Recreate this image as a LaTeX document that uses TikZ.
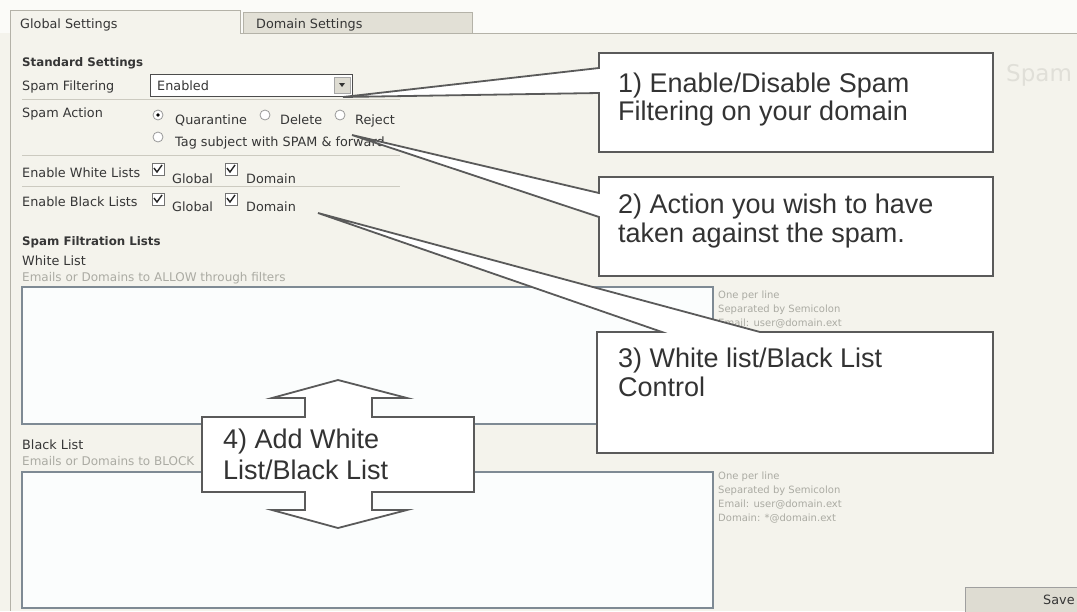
\documentclass[tikz,border=0pt]{standalone}
\usepackage{fontspec}
\setmainfont{DejaVu Sans}
\newfontfamily\calloutfont{Liberation Sans}
\definecolor{bgpanel}{HTML}{F4F3EC}
\definecolor{bgtop}{HTML}{FBFBF8}
\definecolor{tabline}{HTML}{B4B2A8}
\definecolor{tabgray}{HTML}{E2E0D6}
\definecolor{uitext}{HTML}{363636}
\definecolor{hintgray}{HTML}{ABABA3}
\definecolor{sepline}{HTML}{CCCAC0}
\definecolor{areaborder}{HTML}{7E8A94}
\definecolor{areafill}{HTML}{FBFDFD}
\definecolor{cborder}{HTML}{5A5A5A}
\definecolor{ctextcol}{HTML}{333333}
\definecolor{ghost}{HTML}{E0DFD8}
\definecolor{btnfill}{HTML}{DEDCD2}
\begin{document}
\begin{tikzpicture}[x=1pt,y=-1pt,
  ui/.style={font=\fontsize{12.8}{14}\selectfont, text=uitext, inner sep=0pt, anchor=base west},
  uib/.style={font=\fontsize{11.8}{14}\selectfont\bfseries, text=uitext, inner sep=0pt, anchor=base west},
  hint/.style={font=\fontsize{12}{14}\selectfont, text=hintgray, inner sep=0pt, anchor=base west},
  note/.style={font=\fontsize{10}{12}\selectfont, text=hintgray, inner sep=0pt, anchor=base west},
  sep/.style={draw=sepline, line width=1pt},
  area/.style={draw=areaborder, fill=areafill, line width=1.3pt},
  radiobtn/.style={draw=gray!80, fill=white, line width=0.8pt},
  chkbox/.style={draw=gray!90!black, fill=white, line width=0.9pt},
  tick/.style={draw=black!85, line width=1.4pt},
  callout/.style={draw=cborder, fill=white, line width=1.8pt, line join=miter},
  ctext/.style={font=\calloutfont\fontsize{27}{29}\selectfont, text=ctextcol, inner sep=0pt, anchor=base west}]
\useasboundingbox (0,0) rectangle (1077,611);
% backgrounds
\fill[bgpanel] (0,0) rectangle (1077,611);
\fill[bgtop] (0,0) rectangle (1077,33);
\fill[bgpanel] (10,10) rectangle (240,33);
% tabs
\draw[tabline, line width=1pt] (10,611) -- (10,10) -- (240,10) -- (240,33) -- (1077,33);
\draw[tabline, fill=tabgray, line width=1pt] (243,12) rectangle (472,33);
\node[ui] (tabglobal) at (20,28) {Global Settings};
\node[ui] (tabdomain) at (256,28) {Domain Settings};
% standard settings
\node[uib] (stdset) at (22,66) {Standard Settings};
\node[ui] (spamfilt) at (22,90) {Spam Filtering};
\draw[draw=black!70, fill=white, line width=1pt] (150,74) rectangle (352,96);
\node[ui] (enabled) at (157,90) {Enabled};
\draw[draw=gray!70, fill=btnfill, line width=0.6pt] (334,77) rectangle (350,93);
\fill[black!80] (339,83) -- (345,83) -- (342,87) -- cycle;
\draw[sep] (22,99) -- (400,99);
\node[ui] (spamact) at (22,117) {Spam Action};
\draw[radiobtn] (158,115) circle (5);
\fill[black] (158,115) circle (1.8);
\node[ui] (quar) at (175,124) {Quarantine};
\draw[radiobtn] (265,115) circle (5);
\node[ui] (del) at (280,124) {Delete};
\draw[radiobtn] (340,115) circle (5);
\node[ui] (rej) at (355,124) {Reject};
\draw[radiobtn] (158,137) circle (5);
\node[ui] (tagsub) at (175,146) {Tag subject with SPAM \& forward};
\draw[sep] (22,155) -- (400,155);
% white / black list toggles
\node[ui] (enwhite) at (22,177) {Enable White Lists};
\draw[chkbox] (152,163) rectangle (164,175);
\draw[tick] (154,168) -- (157,172) -- (162,165);
\node[ui] (wglob) at (172,183) {Global};
\draw[chkbox] (225,163) rectangle (237,175);
\draw[tick] (227,168) -- (230,172) -- (235,165);
\node[ui] (wdom) at (246,183) {Domain};
\draw[sep] (22,186) -- (400,186);
\node[ui] (enblack) at (22,206) {Enable Black Lists};
\draw[chkbox] (152,193) rectangle (164,205);
\draw[tick] (154,198) -- (157,202) -- (162,195);
\node[ui] (bglob) at (172,211) {Global};
\draw[chkbox] (225,193) rectangle (237,205);
\draw[tick] (227,198) -- (230,202) -- (235,195);
\node[ui] (bdom) at (246,211) {Domain};
% lists
\node[uib] (sfl) at (22,245) {Spam Filtration Lists};
\node[ui] (wl) at (22,265) {White List};
\node[hint] (wlhint) at (22,281) {Emails or Domains to ALLOW through filters};
\draw[area] (22,287) rectangle (713,424);
\node[note] (wn1) at (718,298) {One per line};
\node[note] (wn2) at (718,312) {Separated by Semicolon};
\node[note] (wn3) at (718,326) {Email: user@domain.ext};
\node[ui] (bl) at (22,449) {Black List};
\node[hint] (blhint) at (22,465) {Emails or Domains to BLOCK};
\draw[area] (22,472) rectangle (713,608);
\node[note] (bn1) at (718,479) {One per line};
\node[note] (bn2) at (718,493) {Separated by Semicolon};
\node[note] (bn3) at (718,507) {Email: user@domain.ext};
\node[note] (bn4) at (718,521) {Domain: *@domain.ext};
% ghost title and save button
\node[font=\fontsize{23}{26}\selectfont, text=ghost, inner sep=0pt, anchor=base west] (ghosttxt) at (1006,81) {Spam};
\draw[draw=gray!75, fill=btnfill, line width=1pt] (965,587) rectangle (1090,620);
\node[ui] (save) at (1043,604) {Save};
% callout tips
\coordinate (tip1) at (343,97);
\coordinate (tip2) at (352,135);
\coordinate (tip3) at (318,213);
% callout 1
\draw[callout] (599,53) -- (993,53) -- (993,152) -- (599,152) -- (599,93) -- (tip1) -- (599,68) -- cycle;
\node[ctext] (c1a) at (618,92) {1) Enable/Disable Spam};
\node[ctext] (c1b) at (618,120) {Filtering on your domain};
% callout 2
\draw[callout] (599,177) -- (993,177) -- (993,276) -- (599,276) -- (599,217) -- (tip2) -- (599,193) -- cycle;
\node[ctext] (c2a) at (618,213) {2) Action you wish to have};
\node[ctext] (c2b) at (618,242) {taken against the spam.};
% callout 3
\draw[callout] (597,332) -- (662,332) -- (tip3) -- (760,332) -- (993,332) -- (993,453) -- (597,453) -- cycle;
\node[ctext] (c3a) at (618,367) {3) White list/Black List};
\node[ctext] (c3b) at (618,396) {Control};
% callout 4: double arrow box
\draw[callout] (202,417) -- (305,417) -- (305,398) -- (272,398) -- (338,380) -- (407,398) -- (372,398) -- (372,417)
  -- (474,417) -- (474,492) -- (372,492) -- (372,510) -- (407,510) -- (338,528) -- (272,510) -- (305,510) -- (305,492)
  -- (202,492) -- cycle;
\node[ctext] (c4a) at (223,448) {4) Add White};
\node[ctext] (c4b) at (223,479) {List/Black List};
\end{tikzpicture}
\end{document}
